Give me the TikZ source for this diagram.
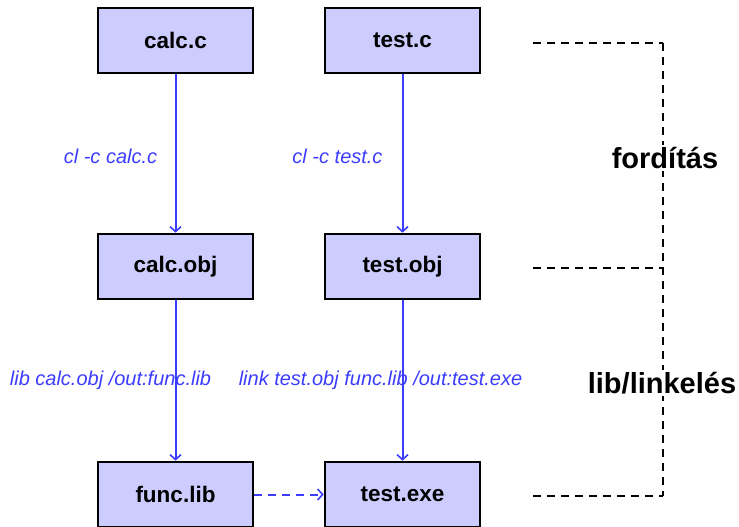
\documentclass[tikz,border=0pt]{standalone}
\usepackage{fontspec}
\setmainfont{Liberation Sans}
\usetikzlibrary{arrows.meta}
\definecolor{boxfill}{HTML}{CCCCFF}
\definecolor{arrblue}{HTML}{3C3CFF}
\begin{document}
\begin{tikzpicture}[x=1pt,y=-1pt,
  filebox/.style={draw=black,line width=2.6pt,fill=boxfill,minimum width=155pt,minimum height=65pt,inner sep=0pt,font=\fontsize{22.5}{26}\selectfont\bfseries},
  arr/.style={draw=arrblue,line width=2pt,-{Straight Barb[length=5pt,width=11pt,line width=1.6pt]}},
  lbl/.style={text=arrblue,font=\fontsize{20}{24}\selectfont\itshape,inner sep=0pt},
  side/.style={font=\fontsize{29}{33}\selectfont\bfseries,fill=white,inner sep=2pt},
  guide/.style={draw=black,line width=2pt,dash pattern=on 8pt off 6pt}]
\useasboundingbox (0,0) rectangle (739,527);
\node[filebox] (calcc) at (175.5,40.5) {calc.c};
\node[filebox] (testc) at (402.5,40.5) {test.c};
\node[filebox] (calcobj) at (175.5,266.5) {calc.obj};
\node[filebox] (testobj) at (402.5,266.5) {test.obj};
\node[filebox] (funclib) at (175.5,494.5) {func.lib};
\node[filebox] (testexe) at (402.5,494.5) {test.exe};
\coordinate (g1) at (533,43);
\coordinate (g2) at (533,268);
\coordinate (g3) at (533,496);
\coordinate (c1) at (663,43);
\coordinate (c2) at (663,268);
\coordinate (c3) at (663,496);
\draw[guide] (g1) -- (c1);
\draw[guide] (g2) -- (c2);
\draw[guide] (g3) -- (c3);
\draw[guide] (c1) -- (c3);
\node[side] (ford) at (665,158) {fordítás};
\node[side] (link) at (662,383) {lib/linkelés};
\draw[arr] (calcc) -- node[lbl,pos=0.52,xshift=-65pt] (l1) {cl -c calc.c} (calcobj);
\draw[arr] (testc) -- node[lbl,pos=0.52,xshift=-65pt] (l2) {cl -c test.c} (testobj);
\draw[arr] (calcobj) -- node[lbl,pos=0.50,xshift=-65pt] (l3) {lib calc.obj /out:func.lib} (funclib);
\draw[arr] (testobj) -- node[lbl,pos=0.50,xshift=-22pt] (l4) {link test.obj func.lib /out:test.exe} (testexe);
\draw[arr,dash pattern=on 8pt off 6pt] (funclib) -- (testexe);
\end{tikzpicture}
\end{document}
